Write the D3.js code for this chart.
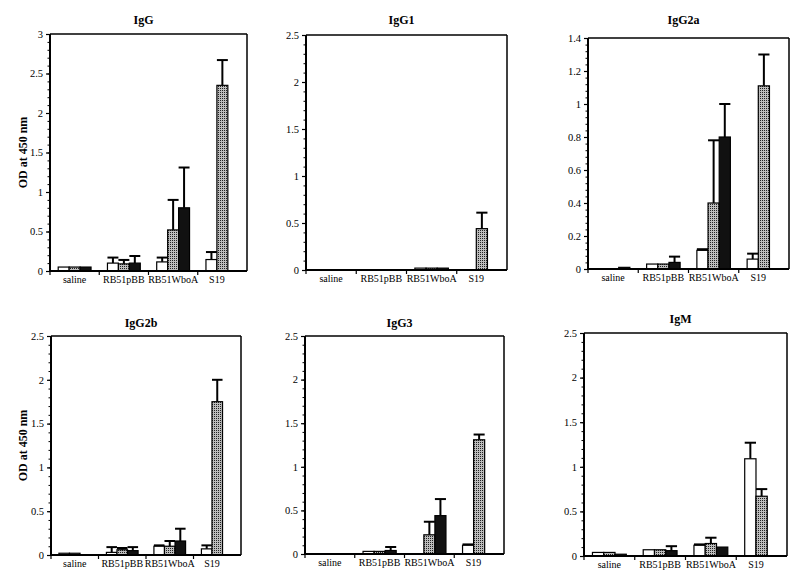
<!DOCTYPE html>
<html><head><meta charset="utf-8">
<script src="https://cdn.jsdelivr.net/npm/d3@7"></script>
<style>html,body{margin:0;padding:0;background:#fff;}svg{display:block;}</style>
</head><body>
<script>
const categories = ["saline", "RB51pBB", "RB51WboA", "S19"];
const seriesNames = ["white", "dotted", "black"];
const titles = ["IgG", "IgG1", "IgG2a", "IgG2b", "IgG3", "IgM"];
const yMaxes = [3, 2.5, 1.4, 2.5, 2.5, 2.5];
const yTickSteps = [0.5, 0.5, 0.2, 0.5, 0.5, 0.5];
const yTickLabels = [
  ["0","0.5","1","1.5","2","2.5","3"],
  ["0","0.5","1","1.5","2","2.5"],
  ["0","0.2","0.4","0.6","0.8","1","1.2","1.4"],
  ["0","0.5","1","1.5","2","2.5"],
  ["0","0.5","1","1.5","2","2.5"],
  ["0","0.5","1","1.5","2","2.5"]
];
// values per panel: [white, dotted, black], one value per category
const igG_white  = [0.05, 0.10, 0.115, 0.145];
const igG_dotted = [0.05, 0.09, 0.52, 2.35];
const igG_black  = [0.05, 0.10, 0.80, null];
const igG_errW   = [0, 0.07, 0.055, 0.095];
const igG_errD   = [0, 0.05, 0.38, 0.32];
const igG_errB   = [0, 0.09, 0.51, null];

const igG1_white  = [0, 0, 0.02, 0];
const igG1_dotted = [0, 0, 0.02, 0.44];
const igG1_black  = [0, 0, 0.02, null];
const igG1_errW   = [0, 0, 0, 0];
const igG1_errD   = [0, 0, 0, 0.17];
const igG1_errB   = [0, 0, 0, null];

const igG2a_white  = [0, 0.03, 0.113, 0.06];
const igG2a_dotted = [0, 0.03, 0.40, 1.11];
const igG2a_black  = [0.01, 0.04, 0.80, null];
const igG2a_errW   = [0, 0, 0.007, 0.033];
const igG2a_errD   = [0, 0, 0.38, 0.19];
const igG2a_errB   = [0, 0.035, 0.20, null];

const igG2b_white  = [0.02, 0.03, 0.10, 0.07];
const igG2b_dotted = [0.02, 0.06, 0.10, 1.75];
const igG2b_black  = [0, 0.05, 0.16, null];
const igG2b_errW   = [0, 0.06, 0.01, 0.04];
const igG2b_errD   = [0, 0.02, 0.06, 0.25];
const igG2b_errB   = [0, 0.04, 0.14, null];

const igG3_white  = [0, 0.03, 0, 0.10];
const igG3_dotted = [0, 0.03, 0.22, 1.31];
const igG3_black  = [0, 0.04, 0.44, null];
const igG3_errW   = [0, 0, 0, 0.01];
const igG3_errD   = [0, 0, 0.15, 0.06];
const igG3_errB   = [0, 0.04, 0.19, null];

const igM_white  = [0.04, 0.07, 0.12, 1.09];
const igM_dotted = [0.04, 0.07, 0.14, 0.67];
const igM_black  = [0.02, 0.06, 0.10, null];
const igM_errW   = [0, 0, 0.01, 0.18];
const igM_errD   = [0, 0, 0.065, 0.08];
const igM_errB   = [0, 0.05, 0, null];

const panelValues = [
  [igG_white, igG_dotted, igG_black],
  [igG1_white, igG1_dotted, igG1_black],
  [igG2a_white, igG2a_dotted, igG2a_black],
  [igG2b_white, igG2b_dotted, igG2b_black],
  [igG3_white, igG3_dotted, igG3_black],
  [igM_white, igM_dotted, igM_black]
];
const panelErrors = [
  [igG_errW, igG_errD, igG_errB],
  [igG1_errW, igG1_errD, igG1_errB],
  [igG2a_errW, igG2a_errD, igG2a_errB],
  [igG2b_errW, igG2b_errD, igG2b_errB],
  [igG3_errW, igG3_errD, igG3_errB],
  [igM_errW, igM_errD, igM_errB]
];

// layout (plot rectangles)
const layout = [
  {x0: 50, x1: 247, y0: 34, y1: 271, ty: 24, ylab: true},
  {x0: 306, x1: 507, y0: 35, y1: 270, ty: 24, ylab: false},
  {x0: 588, x1: 789, y0: 38, y1: 269, ty: 24, ylab: false},
  {x0: 51, x1: 241, y0: 336, y1: 555, ty: 327, ylab: true},
  {x0: 305, x1: 504, y0: 336, y1: 554, ty: 327, ylab: false},
  {x0: 584, x1: 787, y0: 333, y1: 556, ty: 323, ylab: false}
];

const W = 800, H = 584;
const font = "'Liberation Serif', 'Times New Roman', serif";
const svg = d3.select("body").append("svg").attr("width", W).attr("height", H);

const defs = svg.append("defs");
const pat = defs.append("pattern").attr("id", "dots").attr("patternUnits", "userSpaceOnUse")
  .attr("width", 2).attr("height", 2);
pat.append("rect").attr("width", 2).attr("height", 2).attr("fill", "#bdbdbd");
pat.append("rect").attr("width", 1).attr("height", 1).attr("fill", "#222");
const fills = {white: "#fff", dotted: "url(#dots)", black: "#111"};

layout.forEach((L, pi) => {
  const g = svg.append("g");
  const yMax = yMaxes[pi];
  const y = d3.scaleLinear().domain([0, yMax]).range([L.y1, L.y0]);
  const x = d3.scaleBand().domain(categories).range([L.x0, L.x1]).padding(0);
  const xs = d3.scaleBand().domain(seriesNames).range([0, x.bandwidth()]).paddingInner(0).paddingOuter(0.75);

  // bars
  seriesNames.forEach((s, si) => {
    const vals = panelValues[pi][si];
    const errs = panelErrors[pi][si];
    categories.forEach((c, ci) => {
      const v = vals[ci];
      if (v === null || v === undefined) return;
      const bx = x(c) + xs(s);
      const bw = xs.bandwidth();
      const e = errs[ci];
      if (e > 0) {
        const cx = bx + bw / 2;
        g.append("line").attr("x1", cx).attr("x2", cx).attr("y1", y(v)).attr("y2", y(v + e))
          .attr("stroke", "#000").attr("stroke-width", 2);
        g.append("line").attr("x1", bx).attr("x2", bx + bw).attr("y1", y(v + e)).attr("y2", y(v + e))
          .attr("stroke", "#000").attr("stroke-width", 2);
      }
      if (v > 0) {
        g.append("rect").attr("x", bx).attr("y", y(v)).attr("width", bw).attr("height", y(0) - y(v))
          .attr("fill", fills[s]).attr("stroke", "#000").attr("stroke-width", 1.2);
      }
    });
  });

  // frame (top/right)
  g.append("line").attr("x1", L.x0).attr("x2", L.x1).attr("y1", L.y0).attr("y2", L.y0)
    .attr("stroke", "#000").attr("stroke-width", 1.5);
  g.append("line").attr("x1", L.x1).attr("x2", L.x1).attr("y1", L.y0).attr("y2", L.y1)
    .attr("stroke", "#000").attr("stroke-width", 1.5);

  // y axis
  const step = yTickSteps[pi];
  const nMaj = Math.round(yMax / step);
  const majors = d3.range(nMaj + 1).map(i => +(i * step).toFixed(4));
  const minors = d3.range(nMaj * 5 + 1).map(i => +(i * step / 5).toFixed(4));
  const minorAxis = d3.axisLeft(y).tickValues(minors).tickSize(2.5).tickFormat("");
  g.append("g").attr("transform", `translate(${L.x0},0)`).call(minorAxis)
    .call(a => a.select(".domain").remove())
    .selectAll("line").attr("stroke", "#000").attr("stroke-width", 1);
  const yAxis = d3.axisLeft(y).tickValues(majors).tickSize(4).tickPadding(3)
    .tickFormat((d, i) => yTickLabels[pi][i]);
  const ya = g.append("g").attr("transform", `translate(${L.x0},0)`).call(yAxis);
  ya.select(".domain").attr("stroke", "#000").attr("stroke-width", 2).attr("d", `M0,${L.y0}V${L.y1}`);
  ya.selectAll("line").attr("stroke", "#000").attr("stroke-width", 1.2);
  ya.selectAll("text").attr("font-family", font).attr("font-size", 10.5).attr("fill", "#000");

  // x axis
  const xa = g.append("g").attr("transform", `translate(0,${L.y1})`)
    .call(d3.axisBottom(x).tickSize(0).tickFormat(""));
  xa.select(".domain").attr("stroke", "#000").attr("stroke-width", 2).attr("d", `M${L.x0},0H${L.x1}`);
  xa.selectAll(".tick").remove();
  categories.forEach((c, ci) => {
    const bx = x(c);
    g.append("line").attr("x1", bx).attr("x2", bx).attr("y1", L.y1).attr("y2", L.y1 + 4)
      .attr("stroke", "#000").attr("stroke-width", 1.2);
    const present = seriesNames.filter((s, si) => panelValues[pi][si][ci] !== null);
    const first = xs(present[0]);
    const last = xs(present[present.length - 1]) + xs.bandwidth();
    g.append("text").attr("x", bx + (first + last) / 2).attr("y", L.y1 + 12)
      .attr("text-anchor", "middle").attr("font-family", font).attr("font-size", 10)
      .attr("fill", "#000").text(c);
  });

  // title
  g.append("text").attr("x", (L.x0 + L.x1) / 2 - 5).attr("y", L.ty)
    .attr("text-anchor", "middle").attr("font-family", font).attr("font-size", 12)
    .attr("font-weight", "bold").attr("fill", "#000").text(titles[pi]);

  if (L.ylab) {
    const cy = (L.y0 + L.y1) / 2;
    g.append("text").attr("transform", `translate(27,${cy}) rotate(-90)`)
      .attr("text-anchor", "middle").attr("font-family", font).attr("font-size", 12)
      .attr("font-weight", "bold").attr("fill", "#000").text("OD at 450 nm");
  }
});
</script>
</body></html>
